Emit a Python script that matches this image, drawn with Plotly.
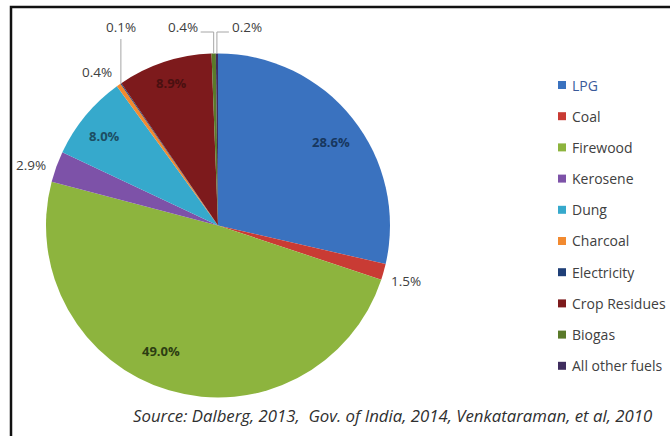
import math
import plotly.graph_objects as go

# Household cooking fuel shares (%)
fuels = ["LPG", "Coal", "Firewood", "Kerosene", "Dung", "Charcoal",
         "Electricity", "Crop Residues", "Biogas", "All other fuels"]
shares = [28.6, 1.5, 49.0, 2.9, 8.0, 0.4, 0.1, 8.9, 0.4, 0.2]
colors = ["#3a72bf", "#c93b34", "#8db43e", "#7d52a8", "#36a9cc", "#f28a30",
          "#1f3f77", "#7d1a1c", "#5a7a2a", "#3f2d5e"]
source_note = "Source: Dalberg, 2013,  Gov. of India, 2014, Venkataraman, et al, 2010"

W, H = 670, 436
CX, CY, R = 218.0, 225.5, 172.0   # pie centre / radius in pixels
FONT = "Open Sans"


def px_to_paper(x, y):
    return x / W, 1 - y / H


def polar(theta_deg, radius):
    t = math.radians(theta_deg)
    return CX + radius * math.sin(t), CY - radius * math.cos(t)


# label placement: (mode, radius factor, angle nudge in degrees, text colour)
label_style = {
    "LPG": ("in", 0.82, 2.0, "#17375e"),
    "Coal": ("out", 1.14, 0.7, "#404040"),
    "Firewood": ("in", 0.80, 8.0, "#2c3d12"),
    "Kerosene": ("out", 1.14, -2.0, "#404040"),
    "Dung": ("in", 0.84, -1.5, "#1c4e63"),
    "Charcoal": ("out", 1.14, -3.0, "#404040"),
    "Electricity": ("up", 0, 0, "#404040"),
    "Crop Residues": ("in", 0.87, 0.0, "#4a1010"),
    "Biogas": ("left", 0, 0, "#404040"),
    "All other fuels": ("right", 0, 0, "#404040"),
}

fig = go.Figure()

x0, y0 = px_to_paper(CX - R, CY + R)
x1, y1 = px_to_paper(CX + R, CY - R)
fig.add_trace(go.Pie(
    labels=fuels, values=shares, sort=False, direction="clockwise", rotation=0,
    marker=dict(colors=colors, line=dict(width=0)),
    textinfo="none", hoverinfo="label+percent", showlegend=False,
    domain=dict(x=[x0, x1], y=[y0, y1]),
))

annotations = []
shapes = []

# data labels around/inside the pie
total = sum(shares)
cum = 0.0
callout_y = 30.0
for name, v in zip(fuels, shares):
    mid = (cum + v / 2) / total * 360.0
    cum += v
    mode, fac, nudge, tcol = label_style[name]
    text = f"{v:.1f}%"
    if mode == "in":
        font = dict(family=FONT, size=13, color=tcol, weight="bold")
    else:
        font = dict(family=FONT, size=13.5, color=tcol)
    if mode in ("in", "out"):
        lx, ly = polar(mid + nudge, fac * R)
        px, py = px_to_paper(lx, ly)
        annotations.append(dict(x=px, y=py, xref="paper", yref="paper", text=text,
                                showarrow=False, font=font,
                                xanchor="center", yanchor="middle"))
        continue
    ex, ey = polar(mid, R)
    line = dict(color="#a6a6a6", width=1)
    if mode == "up":
        pts = [(ex, ey), (ex, callout_y + 9)]
        lx, anchor = ex, "center"
    elif mode == "left":
        pts = [(ex, ey), (ex, callout_y + 2), (ex - 13, callout_y + 2)]
        lx, anchor = ex - 14, "right"
    else:
        pts = [(ex, ey), (ex, callout_y + 2), (ex + 12, callout_y + 2)]
        lx, anchor = ex + 13, "left"
    for (ax, ay), (bx, by) in zip(pts[:-1], pts[1:]):
        a = px_to_paper(ax, ay)
        b = px_to_paper(bx, by)
        shapes.append(dict(type="line", xref="paper", yref="paper",
                           x0=a[0], y0=a[1], x1=b[0], y1=b[1], line=line))
    px, py = px_to_paper(lx, callout_y - 3)
    annotations.append(dict(x=px, y=py, xref="paper", yref="paper", text=text,
                            showarrow=False, font=font,
                            xanchor=anchor, yanchor="middle"))

# legend column on the right
LEG_X, LEG_Y0, LEG_DY, SQ = 558.0, 85.0, 31.2, 8.0
for i, (name, col) in enumerate(zip(fuels, colors)):
    yc = LEG_Y0 + i * LEG_DY
    a = px_to_paper(LEG_X, yc - SQ / 2)
    b = px_to_paper(LEG_X + SQ, yc + SQ / 2)
    shapes.append(dict(type="rect", xref="paper", yref="paper",
                       x0=a[0], y0=a[1], x1=b[0], y1=b[1],
                       fillcolor=col, line=dict(width=0)))
    tx, ty = px_to_paper(LEG_X + SQ + 4, yc)
    annotations.append(dict(x=tx, y=ty, xref="paper", yref="paper", text=name,
                            showarrow=False, xanchor="left", yanchor="middle",
                            font=dict(family=FONT, size=14,
                                      color="#3a5a9a" if i == 0 else "#404040")))

# source line
sx, sy = px_to_paper(392, 415)
annotations.append(dict(x=sx, y=sy, xref="paper", yref="paper",
                        text=f"<i>{source_note}</i>", showarrow=False,
                        xanchor="center", yanchor="middle",
                        font=dict(family=FONT, size=16.8, color="#303030")))

# black frame open to the right and bottom
fx0, fy0 = px_to_paper(11, 7)
shapes.append(dict(type="rect", xref="paper", yref="paper",
                   x0=fx0, y0=fy0, x1=1.1, y1=-0.1,
                   line=dict(color="#111111", width=2.5), layer="above"))

fig.update_layout(
    width=W, height=H, margin=dict(l=0, r=0, t=0, b=0),
    paper_bgcolor="white", plot_bgcolor="white",
    annotations=annotations, shapes=shapes, showlegend=False,
)

fig.write_html("out.html")
